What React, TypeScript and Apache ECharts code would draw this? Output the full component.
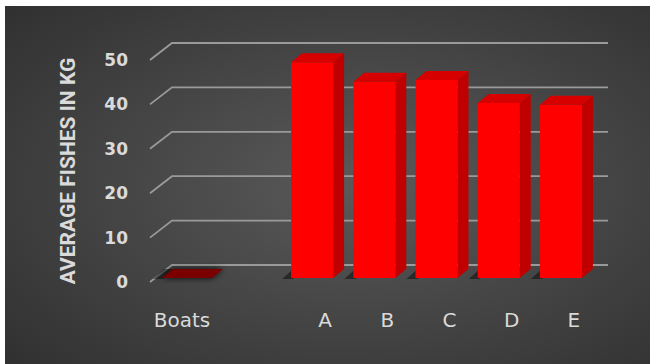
import React, { useEffect, useRef } from "react";
import * as echarts from "echarts";

const boatsCategory = ["Boats"];
const boatsValues = [0];
const categories = ["A", "B", "C", "D", "E"];
const values = [48.6, 44.2, 44.6, 39.4, 39.0];
const yTicks = [0, 10, 20, 30, 40, 50];
const yAxisTitle = "AVERAGE FISHES IN KG";

const W = 645;
const H = 358;
const GRID_TOP = 54;
const GRID_H = 222;
const DEPTH_X = 11;
const DEPTH_Y = -9;
const LIFT = 4;

function barRenderer(frontOffset: number, frontWidth: number, col: { front: string; side: string; top: string; shadowTop?: boolean }) {
  return (params: any, api: any) => {
    const idx = api.value(0);
    const v = api.value(1);
    const base = api.coord([idx, 0]);
    const topPt = api.coord([idx, v]);
    const left = base[0] + frontOffset;
    const right = left + frontWidth;
    const bottom = base[1] - LIFT;
    const topY = topPt[1] - LIFT;
    const children: any[] = [];
    children.push({
      type: "polygon",
      shape: {
        points: [
          [left - 9, bottom + 1],
          [left + 2, bottom + 1],
          [left + DEPTH_X + 2, bottom + DEPTH_Y],
          [left + DEPTH_X - 9, bottom + DEPTH_Y],
        ],
      },
      style: { fill: "rgba(0,0,0,0.45)" },
    });
    if (bottom - topY > 0.5) {
      children.push({
        type: "polygon",
        shape: {
          points: [
            [right, topY],
            [right + DEPTH_X, topY + DEPTH_Y],
            [right + DEPTH_X, bottom + DEPTH_Y],
            [right, bottom],
          ],
        },
        style: { fill: col.side },
      });
      children.push({
        type: "rect",
        shape: { x: left, y: topY, width: frontWidth, height: bottom - topY },
        style: { fill: col.front },
      });
    }
    const topStyle: any = { fill: col.top };
    if (col.shadowTop) {
      topStyle.shadowColor = "rgba(0,0,0,0.9)";
      topStyle.shadowBlur = 6;
    }
    children.push({
      type: "polygon",
      shape: {
        points: [
          [left, topY],
          [left + DEPTH_X, topY + DEPTH_Y],
          [right + DEPTH_X, topY + DEPTH_Y],
          [right, topY],
        ],
      },
      style: topStyle,
    });
    return { type: "group", children };
  };
}

export default function App() {
  const ref = useRef<HTMLDivElement>(null);
  useEffect(() => {
    if (!ref.current) return;
    const chart = echarts.init(ref.current, null, { renderer: "svg" });
    const labelColor = "#dadada";
    chart.setOption({
      animation: false,
      graphic: [
        {
          type: "rect",
          z: -10,
          silent: true,
          shape: { x: 0, y: 0, width: W, height: H },
          style: {
            fill: new echarts.graphic.RadialGradient(0.55, 0.5, 1.0, [
              { offset: 0, color: "#5a5a5a" },
              { offset: 1, color: "#222222" },
            ]),
          },
        },
      ],
      grid: [
        { left: 145, top: GRID_TOP, width: 64, height: GRID_H },
        { left: 289, top: GRID_TOP, width: 311, height: GRID_H },
      ],
      xAxis: [
        {
          type: "category",
          gridIndex: 0,
          data: boatsCategory,
          axisLine: { show: false },
          axisTick: { show: false },
          axisLabel: { color: labelColor, fontFamily: "DejaVu Sans", fontSize: 20, margin: 28 },
        },
        {
          type: "category",
          gridIndex: 1,
          data: categories,
          axisLine: { show: false },
          axisTick: { show: false },
          axisLabel: { color: labelColor, fontFamily: "DejaVu Sans", fontSize: 20, margin: 28 },
        },
      ],
      yAxis: [
        {
          type: "value",
          gridIndex: 0,
          min: 0,
          max: 50,
          interval: 10,
          splitLine: { show: false },
          axisLine: { show: false },
          axisTick: { show: false },
          axisLabel: {
            color: labelColor,
            fontFamily: "DejaVu Sans",
            fontWeight: "bold",
            fontSize: 17,
            margin: 22,
          },
          name: yAxisTitle,
          nameLocation: "middle",
          nameGap: 72,
          nameTextStyle: {
            color: labelColor,
            fontFamily: "Roboto",
            fontWeight: "bold",
            fontSize: 21,
          },
        },
        {
          type: "value",
          gridIndex: 1,
          min: 0,
          max: 50,
          interval: 10,
          show: false,
          splitLine: { show: false },
        },
      ],
      series: [
        {
          type: "custom",
          xAxisIndex: 0,
          yAxisIndex: 0,
          z: 1,
          silent: true,
          data: yTicks.map((t) => [0, t]),
          renderItem: (params: any, api: any) => {
            const p = api.coord([0, api.value(1)]);
            const x0 = 145;
            const y = p[1];
            return {
              type: "polyline",
              shape: { points: [[x0, y], [x0 + 22, y - 17], [603, y - 17]] },
              style: { stroke: "#9a9a9a", lineWidth: 1.8, fill: "none" },
            };
          },
        },
        {
          type: "custom",
          xAxisIndex: 0,
          yAxisIndex: 0,
          z: 2,
          silent: true,
          data: boatsValues.map((v, i) => [i, v]),
          renderItem: barRenderer(-20, 50, { front: "#7a0000", side: "#600000", top: "#7a0000", shadowTop: true }),
        },
        {
          type: "custom",
          xAxisIndex: 1,
          yAxisIndex: 1,
          z: 2,
          silent: true,
          data: values.map((v, i) => [i, v]),
          renderItem: barRenderer(-34, 42, { front: "#ff0000", side: "#c00000", top: "#d60000" }),
        },
      ],
    });
    return () => chart.dispose();
  }, []);
  return (
    <div
      ref={ref}
      style={{ position: "absolute", left: 5, top: 6, width: W, height: H }}
    />
  );
}
